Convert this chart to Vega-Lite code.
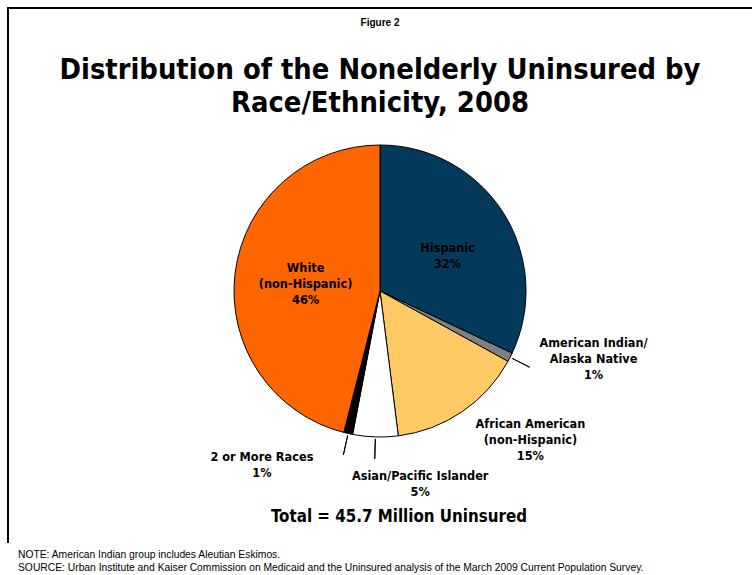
{
  "$schema": "https://vega.github.io/schema/vega-lite/v6.json",
  "width": 744,
  "height": 566,
  "autosize": {"type": "none"},
  "padding": {"left": 8, "top": 8, "right": 0, "bottom": 1},
  "background": "white",
  "view": {"stroke": "black", "strokeWidth": 2, "strokeDash": [744, 1341, 535]},
  "title": {
    "text": "Figure 2",
    "subtitle": ["Distribution of the Nonelderly Uninsured by", "Race/Ethnicity, 2008"],
    "anchor": "middle",
    "frame": "group",
    "font": "Liberation Sans",
    "fontSize": 10,
    "fontWeight": "bold",
    "color": "black",
    "subtitleFont": "DejaVu Sans Condensed",
    "subtitleFontSize": 28.8,
    "subtitleFontWeight": "bold",
    "subtitleColor": "black",
    "subtitleLineHeight": 33,
    "subtitlePadding": 28,
    "offset": -110
  },
  "data": {
    "values": [
      {"cat": "Hispanic", "label": "Hispanic\n32%", "pct": 32, "rank": 1},
      {"cat": "American Indian/Alaska Native", "label": "American Indian/\nAlaska Native\n1%", "pct": 1, "rank": 2},
      {"cat": "African American", "label": "African American\n(non-Hispanic)\n15%", "pct": 15, "rank": 3},
      {"cat": "Asian/Pacific Islander", "label": "Asian/Pacific Islander\n5%", "pct": 5, "rank": 4},
      {"cat": "2 or More Races", "label": "2 or More Races\n1%", "pct": 1, "rank": 5},
      {"cat": "White", "label": "White\n(non-Hispanic)\n46%", "pct": 46, "rank": 6}
    ]
  },
  "layer": [
    {
      "transform": [{"stack": "pct", "groupby": [], "sort": [{"field": "rank", "order": "ascending"}], "as": ["t0", "t1"]}],
      "mark": {"type": "arc", "outerRadius": 146, "stroke": "black", "strokeWidth": 1},
      "encoding": {
        "theta": {"field": "t0", "type": "quantitative", "scale": {"domain": [0, 100]}},
        "theta2": {"field": "t1"},
        "color": {
          "field": "cat", "type": "nominal", "legend": null,
          "scale": {
            "domain": ["Hispanic", "American Indian/Alaska Native", "African American", "Asian/Pacific Islander", "2 or More Races", "White"],
            "range": ["#033a5b", "#808080", "#ffc966", "#ffffff", "#000000", "#ff6600"]
          }
        }
      }
    },
    {
      "transform": [
        {"stack": "pct", "groupby": [], "sort": [{"field": "rank", "order": "ascending"}], "as": ["t0", "t1"]},
        {"filter": {"field": "cat", "oneOf": ["American Indian/Alaska Native", "Asian/Pacific Islander", "2 or More Races"]}},
        {"fold": ["t0", "t1"], "as": ["k", "v"]},
        {"aggregate": [{"op": "mean", "field": "v", "as": "mid"}], "groupby": ["cat"]}
      ],
      "mark": {"type": "arc", "innerRadius": 148, "outerRadius": 168, "stroke": "black", "strokeWidth": 1, "fill": "black"},
      "encoding": {
        "theta": {"field": "mid", "type": "quantitative", "scale": {"domain": [0, 100]}},
        "theta2": {"field": "mid"}
      }
    },
    {
      "transform": [
        {"stack": "pct", "groupby": [], "sort": [{"field": "rank", "order": "ascending"}], "as": ["t0", "t1"]},
        {"filter": {"field": "cat", "equal": "Hispanic"}},
        {"fold": ["t0", "t1"], "as": ["k", "v"]},
        {"aggregate": [{"op": "mean", "field": "v", "as": "mid"}], "groupby": ["cat", "label"]}
      ],
      "mark": {"type": "text", "radius": 80, "dx": 0, "dy": 0, "lineBreak": "\n", "lineHeight": 16, "font": "DejaVu Sans Condensed", "fontSize": 12.6, "fontWeight": "bold", "color": "black", "baseline": "middle", "align": "center"},
      "encoding": {
        "theta": {"field": "mid", "type": "quantitative", "scale": {"domain": [0, 100]}},
        "text": {"field": "label"}
      }
    },
    {
      "transform": [
        {"stack": "pct", "groupby": [], "sort": [{"field": "rank", "order": "ascending"}], "as": ["t0", "t1"]},
        {"filter": {"field": "cat", "equal": "White"}},
        {"fold": ["t0", "t1"], "as": ["k", "v"]},
        {"aggregate": [{"op": "mean", "field": "v", "as": "mid"}], "groupby": ["cat", "label"]}
      ],
      "mark": {"type": "text", "radius": 75, "dx": 0, "dy": -14, "lineBreak": "\n", "lineHeight": 16, "font": "DejaVu Sans Condensed", "fontSize": 12.6, "fontWeight": "bold", "color": "black", "baseline": "middle", "align": "center"},
      "encoding": {
        "theta": {"field": "mid", "type": "quantitative", "scale": {"domain": [0, 100]}},
        "text": {"field": "label"}
      }
    },
    {
      "transform": [
        {"stack": "pct", "groupby": [], "sort": [{"field": "rank", "order": "ascending"}], "as": ["t0", "t1"]},
        {"filter": {"field": "cat", "equal": "American Indian/Alaska Native"}},
        {"fold": ["t0", "t1"], "as": ["k", "v"]},
        {"aggregate": [{"op": "mean", "field": "v", "as": "mid"}], "groupby": ["cat", "label"]}
      ],
      "mark": {"type": "text", "radius": 215, "dx": 22, "dy": -46, "lineBreak": "\n", "lineHeight": 16, "font": "DejaVu Sans Condensed", "fontSize": 12.6, "fontWeight": "bold", "color": "black", "baseline": "middle", "align": "center"},
      "encoding": {
        "theta": {"field": "mid", "type": "quantitative", "scale": {"domain": [0, 100]}},
        "text": {"field": "label"}
      }
    },
    {
      "transform": [
        {"stack": "pct", "groupby": [], "sort": [{"field": "rank", "order": "ascending"}], "as": ["t0", "t1"]},
        {"filter": {"field": "cat", "equal": "African American"}},
        {"fold": ["t0", "t1"], "as": ["k", "v"]},
        {"aggregate": [{"op": "mean", "field": "v", "as": "mid"}], "groupby": ["cat", "label"]}
      ],
      "mark": {"type": "text", "radius": 200, "dx": 38, "dy": -32, "lineBreak": "\n", "lineHeight": 16, "font": "DejaVu Sans Condensed", "fontSize": 12.6, "fontWeight": "bold", "color": "black", "baseline": "middle", "align": "center"},
      "encoding": {
        "theta": {"field": "mid", "type": "quantitative", "scale": {"domain": [0, 100]}},
        "text": {"field": "label"}
      }
    },
    {
      "transform": [
        {"stack": "pct", "groupby": [], "sort": [{"field": "rank", "order": "ascending"}], "as": ["t0", "t1"]},
        {"filter": {"field": "cat", "equal": "Asian/Pacific Islander"}},
        {"fold": ["t0", "t1"], "as": ["k", "v"]},
        {"aggregate": [{"op": "mean", "field": "v", "as": "mid"}], "groupby": ["cat", "label"]}
      ],
      "mark": {"type": "text", "radius": 185, "dx": 46, "dy": 0, "lineBreak": "\n", "lineHeight": 16, "font": "DejaVu Sans Condensed", "fontSize": 12.6, "fontWeight": "bold", "color": "black", "baseline": "middle", "align": "center"},
      "encoding": {
        "theta": {"field": "mid", "type": "quantitative", "scale": {"domain": [0, 100]}},
        "text": {"field": "label"}
      }
    },
    {
      "transform": [
        {"stack": "pct", "groupby": [], "sort": [{"field": "rank", "order": "ascending"}], "as": ["t0", "t1"]},
        {"filter": {"field": "cat", "equal": "2 or More Races"}},
        {"fold": ["t0", "t1"], "as": ["k", "v"]},
        {"aggregate": [{"op": "mean", "field": "v", "as": "mid"}], "groupby": ["cat", "label"]}
      ],
      "mark": {"type": "text", "radius": 170, "dx": -81, "dy": 0, "lineBreak": "\n", "lineHeight": 16, "font": "DejaVu Sans Condensed", "fontSize": 12.6, "fontWeight": "bold", "color": "black", "baseline": "middle", "align": "center"},
      "encoding": {
        "theta": {"field": "mid", "type": "quantitative", "scale": {"domain": [0, 100]}},
        "text": {"field": "label"}
      }
    },
    {
      "data": {"values": [{"note": "Total = 45.7 Million Uninsured"}]},
      "mark": {"type": "text", "dx": 19, "dy": 226, "font": "DejaVu Sans Condensed", "fontSize": 16.8, "fontWeight": "bold", "color": "black", "baseline": "middle", "align": "center"},
      "encoding": {"text": {"field": "note"}}
    },
    {
      "data": {"values": [{"note": "NOTE: American Indian group includes Aleutian Eskimos.\nSOURCE: Urban Institute and Kaiser Commission on Medicaid and the Uninsured analysis of the March 2009 Current Population Survey."}]},
      "mark": {"type": "text", "dx": -362, "dy": 264, "lineBreak": "\n", "lineHeight": 13, "font": "Liberation Sans", "fontSize": 10.3, "color": "black", "baseline": "middle", "align": "left"},
      "encoding": {"text": {"field": "note"}}
    }
  ]
}
